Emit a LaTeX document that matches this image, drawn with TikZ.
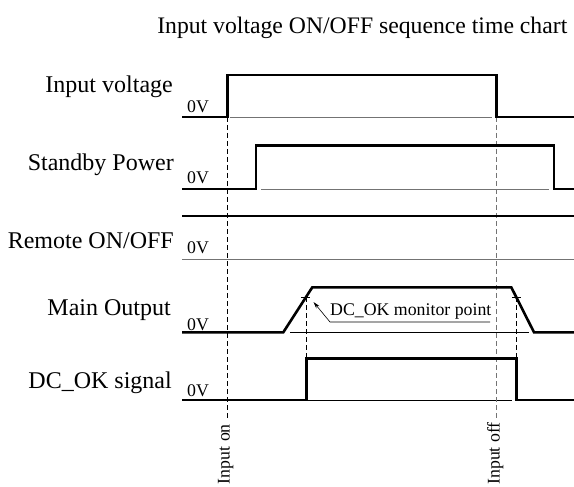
\documentclass[tikz,border=0pt]{standalone}
\usepackage{fontspec}
\setmainfont{Liberation Serif}
\usetikzlibrary{arrows.meta}
\begin{document}
\begin{tikzpicture}[x=1pt,y=-1pt,
  wave/.style={line width=2.6pt, line join=miter},
  zerogray/.style={line width=0.8pt, black!55},
  zeroblack/.style={line width=0.7pt, black},
  guide/.style={line width=0.8pt, dash pattern=on 5pt off 3pt},
  guidegray/.style={guide, black!55},
  tickmark/.style={line width=0.7pt},
  lbl/.style={font=\fontsize{24}{28}\selectfont, inner sep=0pt, anchor=base east},
  small/.style={font=\fontsize{17.8}{20}\selectfont, inner sep=0pt},
  callout/.style={line width=0.6pt, -{Stealth[length=7pt,width=4pt]}},
]
\useasboundingbox (0,0) rectangle (574,487);

% title
\node[font=\fontsize{23.7}{28}\selectfont, inner sep=0pt, anchor=base east] (title) at (567.5,34) {Input voltage ON/OFF sequence time chart};

% row labels
\node[lbl] (lIV) at (173,93) {Input voltage};
\node[lbl] (lSB) at (174,171) {Standby Power};
\node[lbl] (lRM) at (174,248) {Remote ON/OFF};
\node[lbl] (lMO) at (171,315) {Main Output};
\node[lbl] (lDC) at (172,388) {DC\_OK signal};

% 0V labels
\node[small, anchor=base west] (z1) at (187,113) {0V};
\node[small, anchor=base west] (z2) at (187,183) {0V};
\node[small, anchor=base west] (z3) at (187,253) {0V};
\node[small, anchor=base west] (z4) at (187,330) {0V};
\node[small, anchor=base west] (z5) at (187,396.5) {0V};

% key coordinates
\coordinate (onT) at (227.3,117);
\coordinate (onB) at (227.3,418);
\coordinate (offT) at (496.7,117);
\coordinate (offB) at (496.7,418);
\coordinate (mpA) at (306.2,297);
\coordinate (mpAb) at (306.2,358.3);
\coordinate (mpB) at (516.3,297);
\coordinate (mpBb) at (516.3,358.3);

% zero reference lines
\draw[zerogray] (230,117) -- (492,117);
\draw[zerogray] (261,189) -- (549,189);
\draw[zerogray] (182,259.3) -- (574,259.3);
\draw[zeroblack] (290,332.3) -- (529,332.3);
\draw[zeroblack] (306.2,400) -- (512,400);

% guides
\draw[guide] (onT) -- (onB);
\draw[guidegray] (offT) -- (offB);
\draw[guide] (mpA) -- (mpAb);
\draw[guide] (mpB) -- (mpBb);

% waveforms
\draw[wave] (182,117) -- (227.3,117) -- (227.3,75) -- (496.7,75) -- (496.7,117) -- (574,117);
\draw[wave] (182,189) -- (256,189) -- (256,145.5) -- (554,145.5) -- (554,189) -- (574,189);
\draw[wave] (182,216) -- (574,216);
\draw[wave] (182,332.3) -- (283.3,332.3) -- (312.3,287.3) -- (511.3,287.3) -- (534,332.3) -- (574,332.3);
\draw[wave] (182,400) -- (306.2,400) -- (306.2,358.3) -- (516.3,358.3) -- (516.3,400) -- (574,400);

% monitor ticks
\draw[tickmark] ([xshift=-5pt]mpA) -- ([xshift=4pt]mpA);
\draw[tickmark] ([xshift=-4pt]mpB) -- ([xshift=5pt]mpB);

% callout
\node[small, anchor=base west] (mon) at (330,315) {DC\_OK monitor point};
\coordinate (ulR) at (490,322);
\coordinate (ulL) at (330,322);
\coordinate (tip) at (313.5,302);
\draw[callout] (ulR) -- (ulL) -- (tip);

% bottom labels
\node[small, rotate=90, anchor=base east] (inon) at (229.5,424) {Input on};
\node[small, rotate=90, anchor=base east] (inoff) at (499.5,422) {Input off};
\end{tikzpicture}
\end{document}
